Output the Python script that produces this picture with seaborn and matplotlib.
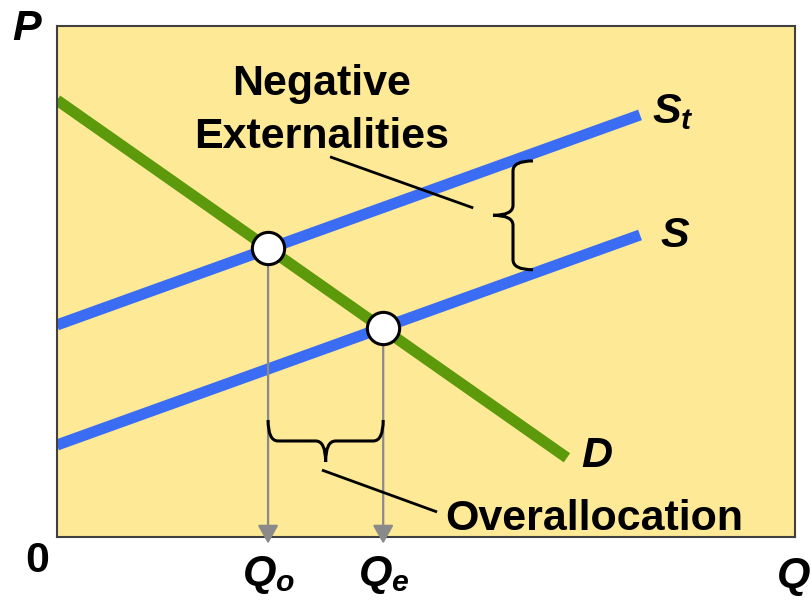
import numpy as np
import pandas as pd
import matplotlib
matplotlib.use("Agg")
import matplotlib.pyplot as plt
import seaborn as sns
from matplotlib.path import Path
from matplotlib.patches import PathPatch
from matplotlib.transforms import IdentityTransform

# ---- data (arbitrary 0-10 units) ----
curves = ["D", "S_t", "S"]
d_x = [0.0, 6.91]
d_y = [8.55, 1.55]
st_x = [0.0, 7.90]
st_y = [4.15, 8.26]
s_x = [0.0, 7.90]
s_y = [1.80, 5.91]
eq_names = ["Q_o", "Q_e"]
eq_x = [2.86, 4.42]
eq_y = [5.66, 4.09]

# ---- style ----
sns.set_theme(style="white")
plt.rcParams["font.family"] = ["Liberation Sans", "DejaVu Sans"]
plt.rcParams["mathtext.fontset"] = "custom"
plt.rcParams["mathtext.it"] = "Liberation Sans:style=italic:weight=bold"
plt.rcParams["mathtext.rm"] = "Liberation Sans:weight=bold"
plt.rcParams["mathtext.bf"] = "Liberation Sans:weight=bold"

YELLOW = "#FDE996"
BLUE = "#3B6CF4"
GREEN = "#5C9A0C"
GRAY = "#8A8A8A"
FS = 31

df = pd.DataFrame({
    "x": d_x + st_x + s_x,
    "y": d_y + st_y + s_y,
    "curve": ["D"] * 2 + ["S_t"] * 2 + ["S"] * 2,
})

fig = plt.figure(figsize=(8.12, 6.02), dpi=100)
ax = fig.add_axes([57 / 812, 65 / 602, 738 / 812, 511 / 602])
ax.set_facecolor(YELLOW)
ax.set_xlim(0, 10)
ax.set_ylim(0, 10)

sns.lineplot(data=df, x="x", y="y", hue="curve", units="curve", estimator=None,
             sort=False, palette={"D": GREEN, "S_t": BLUE, "S": BLUE},
             linewidth=8, legend=False, ax=ax, zorder=2)
for l in ax.get_lines():
    l.set_solid_capstyle("butt")

# gray drop arrows
for qx, qy in zip(eq_x, eq_y):
    ax.annotate("", xy=(qx, -0.13), xytext=(qx, qy),
                arrowprops=dict(arrowstyle="-|>,head_length=0.8,head_width=0.45",
                                color=GRAY, lw=1.6, mutation_scale=14,
                                shrinkA=0, shrinkB=0),
                annotation_clip=False, zorder=3)

eq = pd.DataFrame({"x": eq_x, "y": eq_y, "name": eq_names})
sns.scatterplot(data=eq, x="x", y="y", s=540, color="white", edgecolor="black",
                linewidth=2.2, ax=ax, zorder=5, legend=False)

for sp in ax.spines.values():
    sp.set_color("#404040")
    sp.set_linewidth(1.5)
ax.set_xticks([])
ax.set_yticks([])
ax.set_xlabel("")
ax.set_ylabel("")

# ---- text ----
tk = dict(fontsize=FS, fontweight="bold", color="black", clip_on=False)
ax.text(-0.041, 0.994, "P", transform=ax.transAxes, ha="center", va="center",
        style="italic", **tk)
ax.text(-0.027, -0.047, "0", transform=ax.transAxes, ha="center", va="center", **tk)
ax.text(0.975, -0.076, "Q", transform=ax.transAxes, ha="left", va="center",
        style="italic", **tk)
for qx, nm in zip(eq_x, eq_names):
    ax.text(qx, -0.94, "$%s$" % nm, ha="center", va="baseline", **tk)
ax.text(8.06, (537 - 123) / 51.1, "$S_t$", ha="left", va="baseline", **tk)
ax.text(8.17, (537 - 247) / 51.1, "$S$", ha="left", va="baseline", **tk)
ax.text(7.11, (537 - 467) / 51.1, "D", ha="left", va="baseline", style="italic", **tk)
ax.text(3.58, (537 - 95) / 51.1, "Negative", ha="center", va="baseline", **tk)
ax.text(3.58, (537 - 148) / 51.1, "Externalities", ha="center", va="baseline", **tk)
ax.text(5.26, (537 - 530) / 51.1, "Overallocation", ha="left", va="baseline", **tk)

# leader lines
ax.plot([3.70, 5.64], [7.44, 6.44], color="black", lw=2, solid_capstyle="butt", zorder=4)
ax.plot([3.59, 5.15], [1.31, 0.49], color="black", lw=2, solid_capstyle="butt", zorder=4)


# ---- braces (drawn in display pixels) ----
def brace(p0, p1, depth, r):
    p0 = np.asarray(p0, float)
    p1 = np.asarray(p1, float)
    v = p1 - p0
    L = np.hypot(*v)
    u = v / L
    n = np.array([u[1], -u[0]])

    def P(s, t):
        return tuple(p0 + u * s + n * t)

    h = depth / 2.0
    verts = [P(0, 0), P(0, h), P(r, h),
             P(L / 2 - r, h), P(L / 2, h), P(L / 2, depth),
             P(L / 2, h), P(L / 2 + r, h),
             P(L - r, h), P(L, h), P(L, 0)]
    codes = [Path.MOVETO, Path.CURVE3, Path.CURVE3,
             Path.LINETO, Path.CURVE3, Path.CURVE3,
             Path.CURVE3, Path.CURVE3,
             Path.LINETO, Path.CURVE3, Path.CURVE3]
    return Path(verts, codes)


fig.canvas.draw()
tr = ax.transData
# lower brace under the quantity gap (tip points down)
a = tr.transform((eq_x[1], 2.29))
b = tr.transform((eq_x[0], 2.29))
fig.add_artist(PathPatch(brace(b, a, 42, 10), fill=False, lw=2.2, ec="black",
                         transform=IdentityTransform(), zorder=6))
# upper brace between S and S_t (tip points left)
c = tr.transform((6.45, 7.36))
d = tr.transform((6.45, 5.23))
fig.add_artist(PathPatch(brace(d, c, -40, 10), fill=False, lw=2.2, ec="black",
                         transform=IdentityTransform(), zorder=6))

fig.savefig("out.png", dpi=100, facecolor="white")
